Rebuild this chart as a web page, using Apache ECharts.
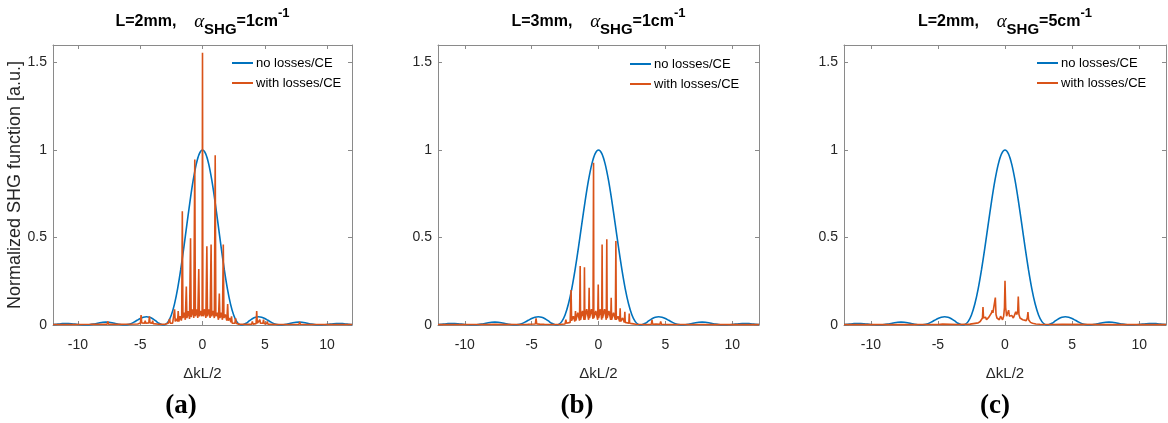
<!DOCTYPE html>
<html><head><meta charset="utf-8">
<script src="https://cdn.jsdelivr.net/npm/echarts@6/dist/echarts.min.js"></script>
<style>html,body{margin:0;padding:0;background:#fff}#c{width:1168px;height:423px}</style>
</head><body><div id="c"></div>
<script>
// ---------------- data ----------------
const seriesNames = ['no losses/CE', 'with losses/CE'];
const panelL = ['2mm', '3mm', '2mm'];
const panelAlpha = ['1', '1', '5'];
const panelLetters = ['(a)', '(b)', '(c)'];
const yAxisName = 'Normalized SHG function [a.u.]';
const xAxisName = '\u0394kL/2';

// blue curve (no losses)
const blueX = [-12,-11.75,-11.5,-11.25,-11,-10.75,-10.5,-10.25,-10,-9.75,-9.5,-9.25,-9,-8.75,-8.5,-8.25,-8,-7.75,-7.5,-7.25,-7,-6.75,-6.5,-6.25,-6,-5.75,-5.5,-5.25,-5,-4.75,-4.5,-4.25,-4,-3.75,-3.5,-3.25,-3.14,-3,-2.75,-2.5,-2.25,-2,-1.75,-1.5,-1.25,-1,-0.75,-0.5,-0.25,0,0.25,0.5,0.75,1,1.25,1.5,1.75,2,2.25,2.5,2.75,3,3.14,3.25,3.5,3.75,4,4.25,4.5,4.75,5,5.25,5.5,5.75,6,6.25,6.5,6.75,7,7.25,7.5,7.75,8,8.25,8.5,8.75,9,9.25,9.5,9.75,10,10.25,10.5,10.75,11,11.25,11.5,11.75,12];
const blueY = [0.0020,0.0036,0.0058,0.0076,0.0083,0.0082,0.0070,0.0052,0.0030,0.0011,0.0001,0.0004,0.0021,0.0051,0.0088,0.0125,0.0153,0.0165,0.0156,0.0129,0.0088,0.0045,0.0011,0.0000,0.0022,0.0078,0.0165,0.0268,0.0368,0.0443,0.0472,0.0444,0.0358,0.0232,0.0100,0.0011,0,0.0022,0.0193,0.0573,0.1196,0.2067,0.3162,0.4422,0.5764,0.7081,0.8260,0.9194,0.9793,1,0.9793,0.9194,0.8260,0.7081,0.5764,0.4422,0.3162,0.2067,0.1196,0.0573,0.0193,0.0022,0,0.0011,0.0100,0.0232,0.0358,0.0444,0.0472,0.0443,0.0368,0.0268,0.0165,0.0078,0.0022,0.0000,0.0011,0.0045,0.0088,0.0129,0.0156,0.0165,0.0153,0.0125,0.0088,0.0051,0.0021,0.0004,0.0001,0.0011,0.0030,0.0052,0.0070,0.0082,0.0083,0.0076,0.0058,0.0036,0.0020];

// orange curves (with losses), [x, y]
const withLossA = [[-12,0.003],[-10.5,0.003],[-9,0.004],[-7.65,0.005],[-7.6,0.02],[-7.55,0.005],[-6.5,0.004],[-5.2,0.006],[-4.98,0.012],[-4.93,0.057],[-4.88,0.012],[-4.65,0.01],[-4.6,0.025],[-4.55,0.01],[-4.31,0.012],[-4.26,0.05],[-4.21,0.012],[-4.04,0.01],[-4.0,0.025],[-3.96,0.008],[-3.5,0.004],[-3.0,0.004],[-2.75,0.01],[-2.69,0.005],[-2.64,0.035],[-2.59,0.01],[-2.5,0.02],[-2.4,0.01],[-2.29,0.02],[-2.24,0.09],[-2.19,0.02],[-2.08,0.035],[-2.0,0.02],[-1.95,0.08],[-1.9,0.02],[-1.8,0.05],[-1.7,0.025],[-1.67,0.04],[-1.62,0.65],[-1.57,0.04],[-1.47,0.07],[-1.38,0.03],[-1.35,0.04],[-1.3,0.22],[-1.25,0.04],[-1.14,0.08],[-1.04,0.035],[-1.01,0.045],[-0.96,0.495],[-0.91,0.045],[-0.8,0.09],[-0.7,0.04],[-0.67,0.05],[-0.62,0.945],[-0.57,0.05],[-0.46,0.09],[-0.38,0.04],[-0.35,0.05],[-0.30,0.32],[-0.25,0.05],[-0.15,0.08],[-0.06,0.05],[-0.03,0.08],[0,1.555],[0.03,0.08],[0.07,0.05],[0.17,0.09],[0.27,0.04],[0.3,0.05],[0.35,0.45],[0.4,0.05],[0.5,0.09],[0.61,0.04],[0.64,0.05],[0.69,0.46],[0.74,0.05],[0.85,0.08],[0.95,0.04],[0.97,0.05],[1.02,0.97],[1.07,0.05],[1.18,0.07],[1.28,0.03],[1.3,0.04],[1.35,0.18],[1.4,0.04],[1.5,0.07],[1.6,0.03],[1.62,0.04],[1.67,0.46],[1.72,0.04],[1.83,0.06],[1.95,0.025],[1.97,0.03],[2.02,0.12],[2.07,0.025],[2.17,0.04],[2.28,0.015],[2.33,0.05],[2.38,0.01],[2.5,0.02],[2.6,0.01],[2.65,0.04],[2.7,0.01],[2.9,0.005],[3.2,0.004],[3.95,0.005],[4.0,0.02],[4.05,0.005],[4.3,0.008],[4.35,0.08],[4.4,0.01],[4.55,0.012],[4.6,0.03],[4.65,0.01],[4.85,0.01],[4.9,0.03],[4.95,0.008],[5.15,0.008],[5.2,0.02],[5.25,0.005],[6,0.003],[7.75,0.004],[7.8,0.018],[7.85,0.004],[9,0.003],[12,0.003]];
const withLossB = [[-12,0.002],[-9,0.003],[-7.75,0.004],[-7.7,0.015],[-7.65,0.004],[-6,0.003],[-5.3,0.004],[-5.25,0.015],[-5.2,0.004],[-4.72,0.006],[-4.67,0.038],[-4.62,0.006],[-4.4,0.005],[-4.35,0.015],[-4.3,0.005],[-4.05,0.004],[-4.0,0.012],[-3.95,0.004],[-3.0,0.003],[-2.5,0.006],[-2.44,0.03],[-2.39,0.01],[-2.25,0.02],[-2.12,0.015],[-2.09,0.025],[-2.05,0.2],[-2.01,0.025],[-1.88,0.05],[-1.77,0.02],[-1.75,0.025],[-1.72,0.08],[-1.69,0.025],[-1.55,0.07],[-1.42,0.025],[-1.4,0.03],[-1.37,0.337],[-1.34,0.03],[-1.2,0.08],[-1.08,0.03],[-1.05,0.33],[-1.02,0.03],[-0.88,0.09],[-0.74,0.03],[-0.72,0.04],[-0.70,0.213],[-0.67,0.04],[-0.53,0.09],[-0.41,0.035],[-0.39,0.04],[-0.37,0.927],[-0.35,0.04],[-0.2,0.08],[-0.06,0.03],[-0.04,0.04],[-0.02,0.232],[0.01,0.04],[0.14,0.09],[0.24,0.03],[0.25,0.04],[0.27,0.46],[0.3,0.04],[0.45,0.09],[0.58,0.03],[0.6,0.04],[0.62,0.49],[0.65,0.04],[0.78,0.08],[0.91,0.03],[0.93,0.04],[0.95,0.156],[0.98,0.03],[1.12,0.07],[1.26,0.03],[1.28,0.04],[1.30,0.48],[1.33,0.03],[1.46,0.05],[1.58,0.02],[1.6,0.025],[1.62,0.095],[1.65,0.02],[1.8,0.04],[1.93,0.015],[1.95,0.02],[1.97,0.075],[2.0,0.015],[2.14,0.025],[2.27,0.01],[2.3,0.065],[2.33,0.01],[2.5,0.008],[2.8,0.004],[3.5,0.003],[3.95,0.004],[4.0,0.03],[4.05,0.004],[4.3,0.005],[4.35,0.015],[4.4,0.004],[4.6,0.004],[4.65,0.02],[4.7,0.004],[5.5,0.003],[7.75,0.003],[7.8,0.012],[7.85,0.003],[9,0.002],[12,0.002]];
const withLossC = [[-12,0.002],[-8,0.002],[-5,0.003],[-4.65,0.005],[-4.6,0.012],[-4.55,0.004],[-3.5,0.003],[-2.6,0.005],[-2.35,0.008],[-2.3,0.016],[-2.25,0.008],[-2.0,0.012],[-1.85,0.02],[-1.75,0.03],[-1.68,0.04],[-1.64,0.103],[-1.6,0.04],[-1.52,0.03],[-1.45,0.045],[-1.38,0.03],[-1.28,0.035],[-1.2,0.045],[-1.15,0.055],[-1.1,0.04],[-1.0,0.07],[-0.95,0.085],[-0.9,0.07],[-0.85,0.06],[-0.78,0.07],[-0.72,0.157],[-0.67,0.06],[-0.6,0.04],[-0.5,0.045],[-0.42,0.03],[-0.33,0.05],[-0.28,0.04],[-0.18,0.03],[-0.1,0.05],[-0.04,0.1],[0,0.253],[0.05,0.1],[0.12,0.05],[0.2,0.06],[0.27,0.085],[0.33,0.05],[0.42,0.04],[0.5,0.055],[0.55,0.065],[0.62,0.04],[0.7,0.055],[0.8,0.075],[0.88,0.06],[0.95,0.08],[0.99,0.163],[1.04,0.06],[1.12,0.04],[1.22,0.035],[1.32,0.03],[1.45,0.03],[1.58,0.025],[1.66,0.04],[1.71,0.074],[1.76,0.03],[1.9,0.015],[2.05,0.01],[2.3,0.006],[2.6,0.004],[3.5,0.003],[4.25,0.004],[4.3,0.008],[4.35,0.003],[8,0.002],[12,0.002]];
const withLoss = [withLossA, withLossB, withLossC];

// ---------------- layout / style ----------------
const BLUE = '#0072BD', ORANGE = '#D95319';
const AX = '#8a8a8a', TXT = '#262626';
const grids = [
  {left: 53, top: 45, width: 299, height: 280},
  {left: 438, top: 45, width: 321, height: 280},
  {left: 844, top: 45, width: 322, height: 280}
];
const legendPos = [{left: 232, top: 56}, {left: 630, top: 57}, {left: 1037, top: 56}];
const letterX = [181, 577, 995];
const blueData = blueX.map((x, i) => [x, blueY[i]]);

const xAxes = [], yAxes = [], series = [], legends = [], graphics = [];
grids.forEach((g, i) => {
  const cx = g.left + g.width / 2;
  xAxes.push({
    gridIndex: i, type: 'value', min: -12, max: 12, splitNumber: 5, position: 'bottom',
    name: xAxisName, nameLocation: 'middle', nameGap: 41,
    nameTextStyle: {fontFamily: 'Liberation Sans', fontSize: 15, color: TXT},
    axisLine: {show: true, onZero: false, lineStyle: {color: AX, width: 1}},
    axisTick: {show: true, inside: true, length: 4, lineStyle: {color: AX}},
    axisLabel: {margin: 13, fontFamily: 'Liberation Sans', fontSize: 14, color: TXT, showMinLabel: false, showMaxLabel: false,
      formatter: v => (Math.abs(v) === 12 ? '' : String(v))},
    splitLine: {show: false}
  });
  yAxes.push({
    gridIndex: i, type: 'value', min: 0, max: 1.6, interval: 0.5, position: 'left',
    name: i === 0 ? yAxisName : '', nameLocation: 'middle', nameGap: 26,
    nameTextStyle: {fontFamily: 'Liberation Sans', fontSize: 18, color: TXT},
    axisLine: {show: true, onZero: false, lineStyle: {color: AX, width: 1}},
    axisTick: {show: true, inside: true, length: 4, lineStyle: {color: AX}},
    axisLabel: {margin: 6, fontFamily: 'Liberation Sans', fontSize: 14, color: TXT, showMaxLabel: false,
      formatter: v => (v > 1.55 ? '' : String(v))},
    splitLine: {show: false}
  });
  series.push({
    name: seriesNames[0], type: 'line', xAxisIndex: i, yAxisIndex: i, data: blueData,
    showSymbol: false, symbol: 'none', smooth: 0.3, lineStyle: {color: BLUE, width: 1.6}, itemStyle: {color: BLUE}, z: 2
  });
  series.push({
    name: seriesNames[1], type: 'line', xAxisIndex: i, yAxisIndex: i, data: withLoss[i],
    showSymbol: false, symbol: 'none', lineStyle: {color: ORANGE, width: 1.6}, itemStyle: {color: ORANGE}, z: 3
  });
  legends.push({
    left: legendPos[i].left, top: legendPos[i].top, orient: 'vertical', icon: 'rect',
    itemWidth: 21, itemHeight: 2, itemGap: 6, padding: 0,
    textStyle: {fontFamily: 'Liberation Sans', fontSize: 13, color: '#000', lineHeight: 14, padding: [0, 0, 0, -2]},
    data: seriesNames
  });
  graphics.push({
    type: 'text', x: cx, y: 22, z: 10,
    style: {
      text: '{n|L=' + panelL[i] + ',    }{g|\u03B1}{s|SHG}{n|=' + panelAlpha[i] + 'cm}{p|-1}',
      align: 'center', verticalAlign: 'middle',
      rich: {
        n: {fontFamily: 'Liberation Sans', fontWeight: 'bold', fontSize: 16, lineHeight: 30, fill: '#000'},
        g: {fontFamily: 'Liberation Serif', fontStyle: 'italic', fontSize: 19, lineHeight: 30, fill: '#000'},
        s: {fontFamily: 'Liberation Sans', fontWeight: 'bold', fontSize: 15, lineHeight: 15, verticalAlign: 'bottom', fill: '#000'},
        p: {fontFamily: 'Liberation Sans', fontWeight: 'bold', fontSize: 13, lineHeight: 24, verticalAlign: 'top', fill: '#000'}
      }
    }
  });
  graphics.push({
    type: 'text', x: letterX[i], y: 406,
    style: {text: panelLetters[i], align: 'center', verticalAlign: 'middle',
      font: 'bold 27px "Liberation Serif"', fill: '#000'}
  });
});
// top and right mirror axes (box with inward ticks)
grids.forEach((g, i) => {
  xAxes.push({
    gridIndex: i, type: 'value', min: -12, max: 12, splitNumber: 5, position: 'top',
    axisLine: {show: true, onZero: false, lineStyle: {color: AX, width: 1}},
    axisTick: {show: true, inside: true, length: 4, lineStyle: {color: AX}},
    axisLabel: {show: false}, splitLine: {show: false}
  });
  yAxes.push({
    gridIndex: i, type: 'value', min: 0, max: 1.6, interval: 0.5, position: 'right',
    axisLine: {show: true, onZero: false, lineStyle: {color: AX, width: 1}},
    axisTick: {show: true, inside: true, length: 4, lineStyle: {color: AX}},
    axisLabel: {show: false}, splitLine: {show: false}
  });
});

const chart = echarts.init(document.getElementById('c'), null, {renderer: 'canvas'});
chart.setOption({
  animation: false,
  backgroundColor: '#fff',
  grid: grids,
  xAxis: xAxes,
  yAxis: yAxes,
  legend: legends,
  series: series,
  graphic: graphics
});
</script>
</body></html>
